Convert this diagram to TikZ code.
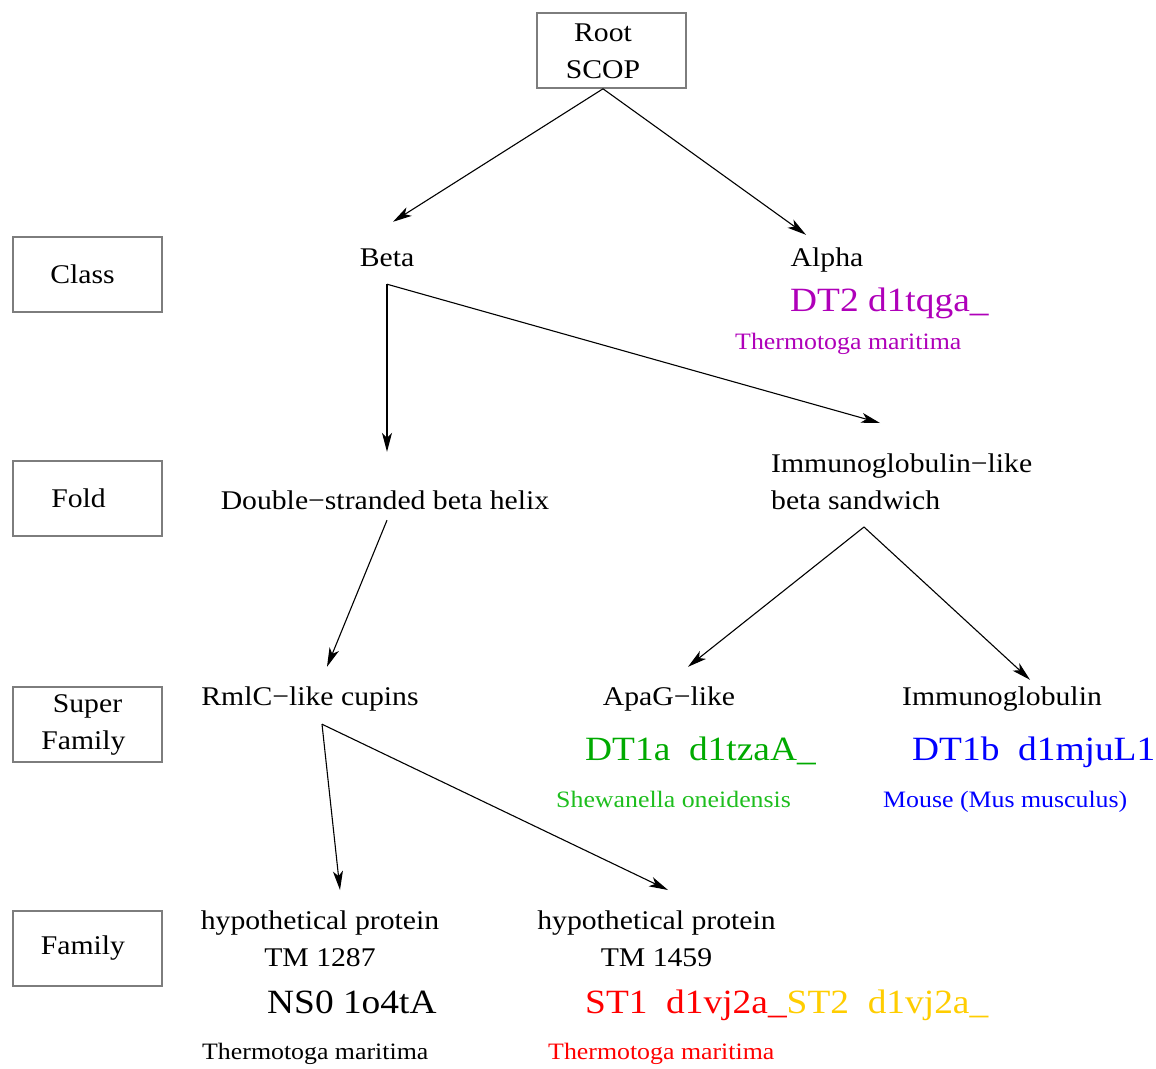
\documentclass[tikz,border=0pt]{standalone}
\usepackage{fontspec}
\setmainfont[FakeStretch=1.1]{Liberation Serif}
\usetikzlibrary{arrows.meta}
\definecolor{dtpurple}{RGB}{175,0,185}
\definecolor{dtgreen}{RGB}{0,170,0}
\definecolor{dtlgreen}{RGB}{30,190,30}
\definecolor{dtblue}{RGB}{0,0,255}
\definecolor{dtred}{RGB}{255,0,0}
\definecolor{dtgold}{RGB}{255,205,0}
\definecolor{boxgray}{RGB}{125,125,125}
\begin{document}
\begin{tikzpicture}[x=1pt,y=-1pt,
  lbl/.style={inner sep=0pt,font=\fontsize{27}{37}\selectfont},
  one/.style={lbl,text height=19pt,text depth=6pt,anchor=base},
  two/.style={lbl,align=center,anchor=north},
  big/.style={inner sep=0pt,font=\fontsize{34}{40}\selectfont,anchor=base west},
  small/.style={inner sep=0pt,font=\fontsize{23.5}{28}\selectfont,anchor=base west},
  levelbox/.style={draw=boxgray,line width=1.6pt,minimum width=149pt,minimum height=75pt,inner sep=0pt,align=center,font=\fontsize{27}{37}\selectfont},
  arr/.style={-{Stealth[length=19pt,width=10pt,inset=5pt]},line width=1.1pt}]
\useasboundingbox (0,0) rectangle (1156,1068);

% level boxes
\node[levelbox] (class) at (87.5,274.5) {Class\hspace*{10pt}};
\node[levelbox] (fold) at (87.5,498.5) {Fold\hspace*{18pt}};
\node[levelbox] (superfam) at (87.5,724.5) {Super\\Family\hspace*{8pt}};
\node[levelbox] (family) at (87.5,948.5) {Family\hspace*{9pt}};

% root
\node[draw=boxgray,line width=1.6pt,minimum width=149pt,minimum height=75pt,inner sep=0pt] (rootbox) at (611.5,50.5) {};
\node[two] (root) at (603,23.5) {Root\\SCOP};

% class level
\node[one] (beta) at (387,266) {Beta};
\node[one] (alpha) at (827,266) {Alpha};
\node[big,text=dtpurple] (dt2) at (790,311) {DT2 d1tqga\_};
\node[small,text=dtpurple] (sp2) at (735,349) {Thermotoga maritima};

% fold level
\node[one] (double) at (385,509) {Double−stranded beta helix};
\node[lbl,align=left,anchor=north west] (immlike) at (771,453.5) {Immunoglobulin−like\\beta sandwich};

% superfamily level
\node[one] (rmlc) at (310,705) {RmlC−like cupins};
\node[one] (apag) at (669,705) {ApaG−like};
\node[one] (immglob) at (1002,705) {Immunoglobulin};
\node[big,text=dtgreen] (dt1a) at (585,760) {DT1a\ \ d1tzaA\_};
\node[small,text=dtlgreen] (sp1a) at (556,807) {Shewanella oneidensis};
\node[big,text=dtblue] (dt1b) at (912,760) {DT1b\ \ d1mjuL1};
\node[small,text=dtblue] (sp1b) at (883,807) {Mouse (Mus musculus)};

% family level
\node[two] (hyp1) at (320,910.5) {hypothetical protein\\TM 1287};
\node[two] (hyp2) at (656.5,910.5) {hypothetical protein\\TM 1459};
\node[big] (ns0) at (267,1013) {NS0 1o4tA};
\node[small] (spns) at (202,1059) {Thermotoga maritima};
\node[big] (st) at (585,1013) {\color{dtred}ST1\ \ d1vj2a\_\color{dtgold}ST2\ \ d1vj2a\_};
\node[small,text=dtred] (spst) at (548,1059) {Thermotoga maritima};

% connectors
\draw[arr] ([xshift=-8.5pt]rootbox.south) -- ([xshift=6pt,yshift=25pt]beta.north);
\draw[arr] ([xshift=-8.5pt]rootbox.south) -- ([xshift=-21pt,yshift=12pt]alpha.north);
\draw[arr] ([yshift=-12pt]beta.south) -- ([xshift=2pt,yshift=38pt]double.north);
\draw[arr] ([yshift=-12pt]beta.south) -- ([xshift=109pt,yshift=30.5pt]immlike.north west);
\draw[arr] ([xshift=2pt,yshift=-5pt]double.south) -- ([xshift=17pt,yshift=19pt]rmlc.north);
\draw[arr] ([xshift=93pt,yshift=-73.5pt]immlike.north west) -- ([xshift=19pt,yshift=19pt]apag.north);
\draw[arr] ([xshift=93pt,yshift=-73.5pt]immlike.north west) -- ([xshift=28pt,yshift=6pt]immglob.north);
\draw[arr] ([xshift=12pt,yshift=-13pt]rmlc.south) -- ([xshift=20pt,yshift=20.5pt]hyp1.north);
\draw[arr] ([xshift=12pt,yshift=-13pt]rmlc.south) -- ([xshift=11.5pt,yshift=20.5pt]hyp2.north);
\end{tikzpicture}
\end{document}
